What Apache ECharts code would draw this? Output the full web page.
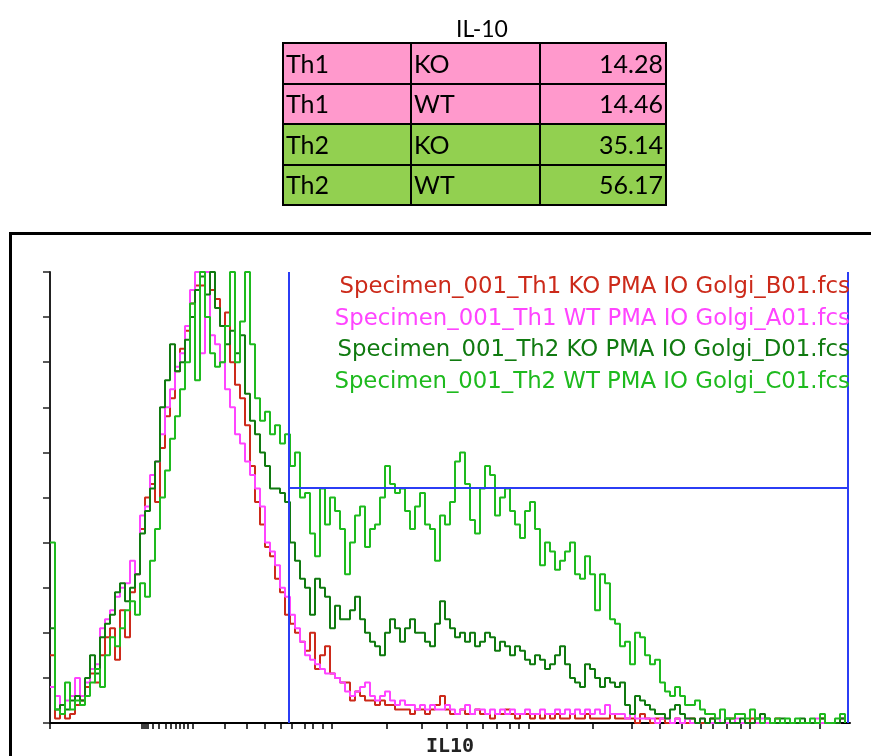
<!DOCTYPE html>
<html>
<head>
<meta charset="utf-8">
<title>IL-10</title>
<script src="https://cdn.jsdelivr.net/npm/echarts@6/dist/echarts.min.js"></script>
<style>
  html, body { margin: 0; padding: 0; background: #fff; }
  #main { width: 871px; height: 756px; }
</style>
</head>
<body>
<div id="main"></div>
<script>
// summary table
var cellType = ['Th1', 'Th1', 'Th2', 'Th2'];
var genotype = ['KO', 'WT', 'KO', 'WT'];
var il10Pct = [14.28, 14.46, 35.14, 56.17];

var sampleNames = [
  'Specimen_001_Th1 KO PMA IO Golgi_B01.fcs',
  'Specimen_001_Th1 WT PMA IO Golgi_A01.fcs',
  'Specimen_001_Th2 KO PMA IO Golgi_D01.fcs',
  'Specimen_001_Th2 WT PMA IO Golgi_C01.fcs'
];
var lineColors = ['#cc2a1a', '#ff44ff', '#107a10', '#1eba1e'];

// histogram, % of max, 160 bins
var koTh1 = [
  15,1,2,1,2,4,5,8,11,9,
  15,19,21,14,25,19,29,33,43,50,
  53,49,61,68,72,78,83,87,93,97,
  97,100,96,94,88,91,80,75,72,66,
  57,49,44,39,37,32,29,24,22,20,
  18,16,20,12,15,17,11,10,9,9,
  5,7,6,5,5,4,5,4,4,3,
  3,3,2,3,3,2,3,4,6,3,
  2,2,3,2,2,3,2,2,1,2,
  2,3,2,1,2,2,1,2,1,2,
  1,2,1,1,2,1,1,2,1,1,
  1,1,2,1,1,1,1,0,2,1,
  0,1,1,0,0,1,0,0,1,0,
  0,0,1,0,0,0,1,0,0,0,
  1,0,0,0,0,1,0,0,0,0,
  0,0,0,0,1,0,0,0,1,0
];
var wtTh1 = [
  8,6,4,5,6,10,6,9,12,13,
  21,23,25,28,30,31,36,33,46,48,
  55,58,64,70,74,79,82,88,96,100,
  82,100,86,84,80,74,70,64,62,58,
  55,52,48,40,38,35,30,28,24,21,
  18,15,14,13,12,11,11,10,9,7,
  6,7,8,9,6,5,6,7,5,4,
  5,4,4,3,4,3,4,3,3,4,
  3,2,3,4,2,3,3,2,3,2,
  3,2,3,2,2,3,2,2,3,2,
  2,3,2,3,2,3,2,3,2,3,
  2,4,2,2,2,1,2,1,1,1,
  1,0,1,1,0,1,0,1,0,0,
  1,0,0,1,0,0,0,1,0,0,
  0,0,1,0,0,0,0,0,0,0,
  0,0,0,1,0,0,0,0,1,0
];
var koTh2 = [
  21,3,4,3,5,6,5,10,15,11,
  19,22,24,29,31,27,30,33,42,47,
  52,58,70,76,84,78,80,85,90,96,
  99,95,100,92,88,84,87,82,86,73,
  67,64,60,57,52,52,51,49,40,36,
  32,30,24,32,30,28,21,26,23,23,
  25,28,23,20,18,17,15,20,23,21,
  18,21,23,20,20,18,17,22,27,23,
  21,19,20,18,20,17,18,20,19,16,
  18,17,15,17,16,14,13,15,14,12,
  13,15,17,13,10,9,8,13,12,10,
  8,10,9,8,9,4,2,6,5,4,
  3,2,2,1,3,4,2,1,1,0,
  1,0,1,0,0,1,0,0,1,0,
  0,1,2,1,0,0,1,0,0,0,
  1,0,0,0,1,0,0,0,1,0
];
var wtTh2 = [
  40,3,2,9,3,5,4,6,9,12,
  8,15,19,17,21,25,27,24,31,28,
  36,43,50,56,63,68,74,80,93,76,
  100,90,82,79,80,88,100,80,89,100,
  84,72,67,69,64,66,62,64,57,60,
  50,51,42,37,52,44,50,47,43,33,
  40,46,48,39,43,44,50,57,53,51,
  52,47,43,48,51,44,43,36,46,44,
  49,58,60,53,45,42,52,57,55,46,
  50,52,47,44,41,47,49,43,35,40,
  38,34,36,38,40,33,32,37,33,25,
  33,31,23,22,17,18,13,20,19,15,
  13,14,9,7,6,8,6,4,4,5,
  3,2,2,1,3,1,1,2,2,1,
  3,1,0,1,0,1,0,1,0,1,
  0,0,1,0,2,0,0,1,2,0
];
var allCounts = [koTh1, wtTh1, koTh2, wtTh2];

// x tick positions (bins) of the biexponential IL10 axis
var xTicks = [0, 18.4, 18.8, 19.2, 19.6, 20.6, 21.8, 23.2, 24.2, 25.2, 26, 26.8, 27.6, 28.6,
  35, 39.4, 43, 46.2, 48.4, 51, 52.6, 54.6, 56.4, 67.4, 74.4, 79.4, 83.4, 86.6, 89.4, 92,
  93.8, 95.8, 108.6, 116.4, 122, 126.4, 130.2, 132.6, 135.4, 138.2, 140, 154];

// positive gate
var gateX = [47.8, 159.6];
var gateY = 52.1;

var myChart = echarts.init(document.getElementById('main'));

// table cells
var colX = [283, 411, 540, 666];
var rowY = [43, 84, 124, 165, 205];
var rowFill = { Th1: '#ff99cc', Th2: '#92d050' };
var tableFont = '25px Lato';
var graphics = [];
cellType.forEach(function (t, r) {
  var texts = [t, genotype[r], il10Pct[r].toFixed(2)];
  for (var c = 0; c < 3; c++) {
    graphics.push({
      type: 'rect',
      shape: { x: colX[c], y: rowY[r], width: colX[c + 1] - colX[c], height: rowY[r + 1] - rowY[r] },
      style: { fill: rowFill[t], stroke: '#000', lineWidth: 2 }
    });
    graphics.push({
      type: 'text',
      z: 10,
      style: {
        text: texts[c],
        x: c < 2 ? colX[c] + 3 : colX[c + 1] - 3,
        y: (rowY[r] + rowY[r + 1]) / 2 + 1,
        align: c < 2 ? 'left' : 'right',
        verticalAlign: 'middle',
        font: tableFont,
        fill: '#000'
      }
    });
  }
});

// frame around the plot
graphics.push({
  type: 'rect',
  shape: { x: 10.5, y: 233.5, width: 900, height: 600 },
  style: { fill: 'none', stroke: '#000', lineWidth: 3 }
});

// sample names
sampleNames.forEach(function (name, i) {
  graphics.push({
    type: 'text',
    z: 10,
    style: {
      text: name,
      x: 850,
      y: 287 + i * 31.7,
      align: 'right',
      verticalAlign: 'middle',
      font: '22.8px "DejaVu Sans"',
      fill: lineColors[i]
    }
  });
});

var series = allCounts.map(function (counts, i) {
  return {
    name: sampleNames[i],
    type: 'line',
    step: 'end',
    symbol: 'none',
    color: lineColors[i],
    lineStyle: { width: 2 },
    data: counts.map(function (v, k) { return [k, v]; })
  };
});
series[3].markLine = {
  silent: true,
  symbol: ['none', 'none'],
  label: { show: false },
  lineStyle: { color: '#2b3df5', width: 2, type: 'solid' },
  data: [
    [{ coord: [gateX[0], 0] }, { coord: [gateX[0], 100] }],
    [{ coord: [gateX[1], 0] }, { coord: [gateX[1], 100] }],
    [{ coord: [gateX[0], gateY] }, { coord: [gateX[1], gateY] }]
  ]
};

myChart.setOption({
  animation: false,
  title: {
    text: 'IL-10',
    left: 477,
    top: 13,
    textAlign: 'center',
    textStyle: { fontFamily: 'Lato', fontSize: 23, fontWeight: 'normal', color: '#000' }
  },
  grid: { left: 50, top: 272, width: 800, height: 451, outerBoundsMode: 'none' },
  xAxis: {
    type: 'value',
    min: 0,
    max: 160,
    name: 'IL10',
    nameLocation: 'middle',
    nameGap: 14,
    nameTextStyle: { fontFamily: 'DejaVu Sans Mono', fontWeight: 'bold', fontSize: 20, color: '#222', verticalAlign: 'top' },
    axisLine: { onZero: false, lineStyle: { color: '#000', width: 2 } },
    axisTick: { customValues: xTicks, length: 6, lineStyle: { color: '#000', width: 1.5 } },
    axisLabel: { show: false },
    splitLine: { show: false }
  },
  yAxis: {
    type: 'value',
    min: 0,
    max: 100,
    interval: 10,
    axisLine: { show: true, lineStyle: { color: '#222', width: 2 } },
    axisTick: { show: true, length: 7, lineStyle: { color: '#222', width: 1.5 } },
    axisLabel: { show: false },
    splitLine: { show: false }
  },
  graphic: graphics,
  series: series
});
</script>
</body>
</html>
